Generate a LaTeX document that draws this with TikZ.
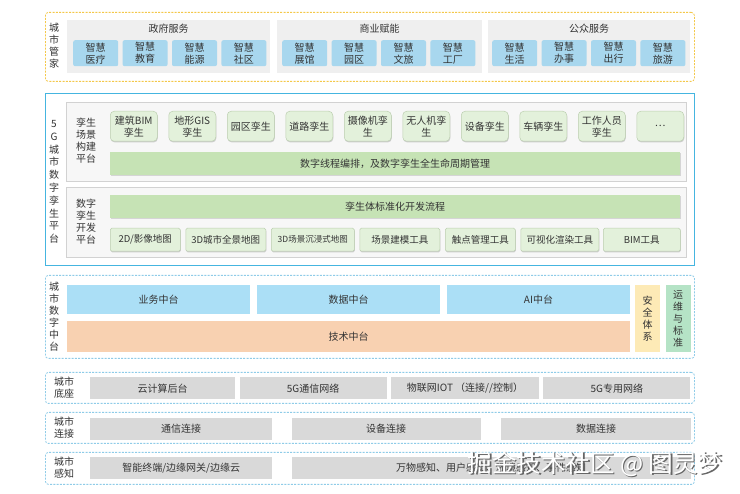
\documentclass[tikz,border=0pt]{standalone}
\usepackage{fontspec}
\setmainfont{Noto Sans CJK SC}
\usepackage{tikz}
\usetikzlibrary{positioning, shadows}

\definecolor{txt}{HTML}{333333}
\definecolor{gold}{HTML}{F4C84A}
\definecolor{grpbg}{HTML}{EFEFEF}
\definecolor{svcblue}{HTML}{A8D7EE}
\definecolor{cyanline}{HTML}{45B5E0}
\definecolor{panelbg}{HTML}{F7F7F7}
\definecolor{paneledge}{HTML}{D2D2D2}
\definecolor{tilegreen}{HTML}{E3F1DB}
\definecolor{tileedge}{HTML}{BCCFB0}
\definecolor{bargreen}{HTML}{C6E3B5}
\definecolor{midblue}{HTML}{ABDFF6}
\definecolor{peach}{HTML}{F8D1B1}
\definecolor{softyellow}{HTML}{FDEAB6}
\definecolor{softgreen}{HTML}{B5E3C6}
\definecolor{dashblue}{HTML}{8FCCE8}
\definecolor{basegray}{HTML}{D9D9D9}

\begin{document}
\begin{tikzpicture}[
  x=1pt, y=-1pt,
  every node/.style={font=\fontsize{10}{12}\selectfont, text=txt, inner sep=0pt, align=center},
  ring/.style={draw=#1, dash pattern=on 2pt off 1.3pt, line width=0.8pt, rounded corners=3pt, anchor=north west, minimum width=649pt},
  grp/.style={fill=grpbg, anchor=north west, minimum width=#1, minimum height=53pt},
  svc/.style={fill=svcblue, rounded corners=2pt, minimum width=45pt, minimum height=26pt},
  panel/.style={fill=panelbg, draw=paneledge, line width=0.6pt, anchor=north west, minimum width=620pt, minimum height=#1},
  twin/.style={fill=tilegreen, draw=tileedge, line width=0.5pt, rounded corners=4pt, minimum width=47pt, minimum height=30pt,
    drop shadow={shadow xshift=0.5pt, shadow yshift=-1.2pt, fill=black!30, opacity=0.6}},
  bar/.style={fill=bargreen, anchor=north west, minimum width=570pt, minimum height=23pt,
    drop shadow={shadow xshift=0.5pt, shadow yshift=-1.2pt, fill=black!25, opacity=0.6}},
  tool/.style={twin, rounded corners=1.5pt, minimum width=#1, minimum height=23pt, font=\fontsize{9.5}{11}\selectfont},
  hub/.style={fill=midblue, minimum width=183pt, minimum height=29pt},
  side/.style={fill=#1, anchor=north west, minimum width=25pt, minimum height=67pt},
  basebox/.style={fill=basegray, anchor=north west, minimum width=#1, minimum height=22pt}
]
  \useasboundingbox[fill=white] (0,0) rectangle (740,494);

  % 城市管家
  \node[ring=gold, minimum height=69pt] (mgr) at (45,12) {};
  \node (mgrlbl) at (54,46) {城\\市\\管\\家};
  \node[grp=203pt] (gov) at (67,20) {};
  \node[grp=205pt] (biz) at (277,20) {};
  \node[grp=202pt] (pub) at (488,20) {};
  \node[below=4pt of gov.north] (govt) {政府服务};
  \node[below=4pt of biz.north] (bizt) {商业赋能};
  \node[below=4pt of pub.north] (pubt) {公众服务};
  \node[svc, anchor=north west] (med) at (73,40) {智慧\\医疗};
  \node[svc, right=4pt of med] (edu) {智慧\\教育};
  \node[svc, right=4pt of edu] (eng) {智慧\\能源};
  \node[svc, right=4pt of eng] (com) {智慧\\社区};
  \node[svc, anchor=north west] (expo) at (282,40) {智慧\\展馆};
  \node[svc, right=4pt of expo] (park) {智慧\\园区};
  \node[svc, right=4pt of park] (tour) {智慧\\文旅};
  \node[svc, right=4pt of tour] (fac) {智慧\\工厂};
  \node[svc, anchor=north west] (life) at (492,40) {智慧\\生活};
  \node[svc, right=4pt of life] (affair) {智慧\\办事};
  \node[svc, right=4pt of affair] (trip) {智慧\\出行};
  \node[svc, right=4pt of trip] (travel) {智慧\\旅游};

  % 5G城市数字孪生平台
  \node[draw=cyanline, line width=1pt, anchor=north west, minimum width=649pt, minimum height=172pt] (twinp) at (45,93) {};
  \node[font=\fontsize{10}{12.8}\selectfont] (twinlbl) at (54,182) {5\\G\\城\\市\\数\\字\\孪\\生\\平\\台};
  \node[panel=79pt] (scene) at (66,102) {};
  \node (scenelbl) at (86,141) {孪生\\场景\\构建\\平台};
  \node[twin, anchor=north west] (bim) at (110,111) {建筑BIM\\孪生};
  \node[twin, right=11pt of bim] (gis) {地形GIS\\孪生};
  \node[twin, right=11pt of gis] (yard) {园区孪生};
  \node[twin, right=11pt of yard] (road) {道路孪生};
  \node[twin, right=11pt of road] (cam) {摄像机孪\\生};
  \node[twin, right=11pt of cam] (uav) {无人机孪\\生};
  \node[twin, right=11pt of uav] (dev) {设备孪生};
  \node[twin, right=11pt of dev] (car) {车辆孪生};
  \node[twin, right=11pt of car] (staff) {工作人员\\孪生};
  \node[twin, right=11pt of staff] (more) {…};
  \node[bar] (thread) at (110,152) {数字线程编排，及数字孪生全生命周期管理};
  \node[panel=70pt] (devp) at (66,187) {};
  \node (devlbl) at (86,222) {数字\\孪生\\开发\\平台};
  \node[bar] (flow) at (110,195) {孪生体标准化开发流程};
  \node[tool=70pt, anchor=north west] (map2d) at (110,228) {2D/影像地图};
  \node[tool=80pt, right=5pt of map2d] (map3d) {3D城市全景地图};
  \node[tool=83pt, right=5pt of map3d, font=\fontsize{8.5}{10}\selectfont] (immer) {3D场景沉浸式地图};
  \node[tool=80pt, right=5pt of immer] (model) {场景建模工具};
  \node[tool=70pt, right=5pt of model] (touch) {触点管理工具};
  \node[tool=78pt, right=5pt of touch] (render) {可视化渲染工具};
  \node[tool=77pt, right=4pt of render] (bimt) {BIM工具};

  % 城市数字中台
  \node[ring=dashblue, minimum height=83pt] (mid) at (45,275) {};
  \node (midlbl) at (54,317) {城\\市\\数\\字\\中\\台};
  \node[hub, anchor=north west] (bizhub) at (67,285) {业务中台};
  \node[hub, right=6.5pt of bizhub] (datahub) {数据中台};
  \node[hub, right=6.5pt of datahub] (aihub) {AI中台};
  \node[fill=peach, anchor=north west, minimum width=563pt, minimum height=31pt] (techhub) at (67,321) {技术中台};
  \node[side=softyellow] (safe) at (635,285) {安\\全\\体\\系};
  \node[side=softgreen, right=5pt of safe] (ops) {运\\维\\与\\标\\准};

  % 城市底座
  \node[ring=dashblue, minimum height=31pt] (basep) at (45,372) {};
  \node (baselbl) at (64,388) {城市\\底座};
  \node[basebox=145pt] (cloud) at (90,377) {云计算后台};
  \node[basebox=147pt, right=4pt of cloud] (net5g) {5G通信网络};
  \node[basebox=148pt, right=4pt of net5g] (iot) {物联网IOT （连接//控制）};
  \node[basebox=147pt, right=4pt of iot] (priv5g) {5G专用网络};

  % 城市连接
  \node[ring=dashblue, minimum height=31pt] (linkp) at (45,412) {};
  \node (linklbl) at (64,428) {城市\\连接};
  \node[basebox=182pt] (comm) at (90,418) {通信连接};
  \node[basebox=189pt, right=19pt of comm] (devlink) {设备连接};
  \node[basebox=190pt, right=20pt of devlink] (datalink) {数据连接};

  % 城市感知
  \node[ring=dashblue, minimum height=32pt] (sensep) at (45,452) {};
  \node (senselbl) at (64,468) {城市\\感知};
  \node[basebox=182pt] (edge) at (90,457) {智能终端/边缘网关/边缘云};
  \node[basebox=399pt, right=19pt of edge] (sense) {万物感知、用户感知、环境感知、事件感知};

  \node[font=\fontsize{24.5}{26}\selectfont, text=black!60] (wmshade) at (596.5,465.5) {掘金技术社区 @ 图灵梦};
  \node[font=\fontsize{24.5}{26}\selectfont, text=white] (wm) at (595,464) {掘金技术社区 @ 图灵梦};
\end{tikzpicture}
\end{document}
